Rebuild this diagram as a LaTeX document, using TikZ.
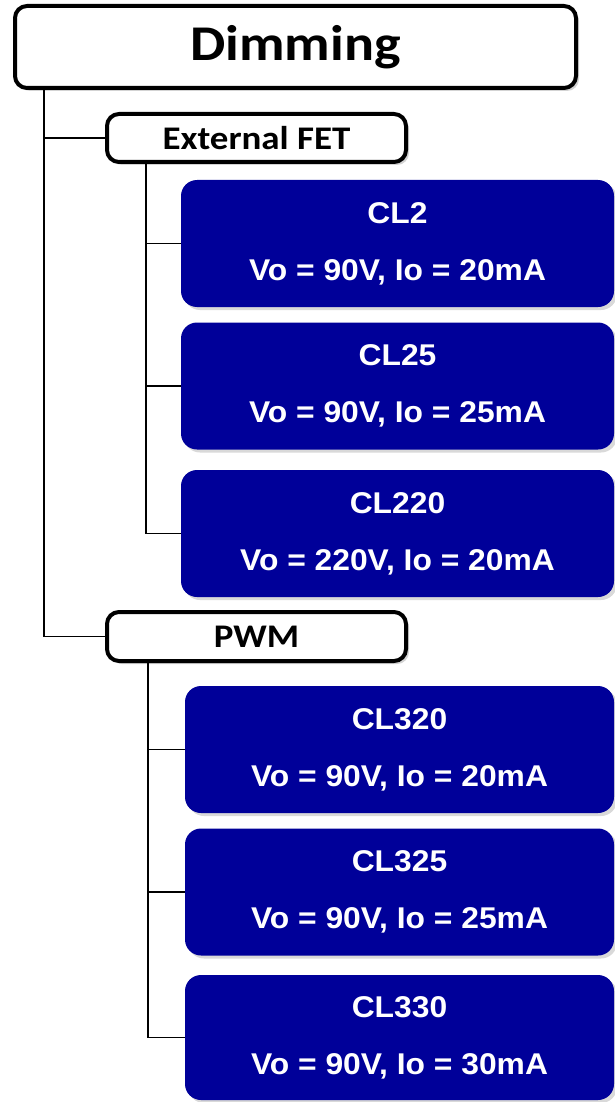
\documentclass[tikz,border=0pt]{standalone}
\usepackage{fontspec}
\usetikzlibrary{positioning,shadows}
\newfontfamily\titlefont[FakeStretch=1.12]{Carlito}
\newfontfamily\cardfont[FakeStretch=1.06]{Liberation Sans}
\definecolor{CardBlue}{RGB}{0, 0, 153}

\tikzset{
  headbox/.style={draw=black, line width=4pt, rounded corners=12pt, fill=white,
    drop shadow={opacity=0.35, shadow xshift=3pt, shadow yshift=-3pt},
    inner sep=0pt, font=\titlefont\bfseries},
  cardbox/.style={fill=CardBlue, text=white, rounded corners=16pt, align=center,
    drop shadow={opacity=0.3, shadow xshift=3pt, shadow yshift=-3pt},
    inner sep=0pt, font=\cardfont\bfseries\fontsize{30}{57}\selectfont},
  link/.style={draw=black, line width=1.8pt}
}

\begin{document}
\begin{tikzpicture}[x=1pt, y=-1pt]
  \useasboundingbox (0,0) rectangle (615,1102);

  % Top level
  \node[headbox, minimum width=561pt, minimum height=82pt, font=\titlefont\bfseries\fontsize{50}{60}\selectfont]
    (dim) at (295.5, 47) {Dimming};

  % Branches
  \node[headbox, minimum width=299pt, minimum height=48pt, font=\titlefont\bfseries\fontsize{33}{40}\selectfont]
    (ext) at (256.5, 138) {External FET};
  \node[headbox, minimum width=299pt, minimum height=49pt, font=\titlefont\bfseries\fontsize{33}{40}\selectfont]
    (pwm) at (256.5, 636.5) {PWM};

  % External FET parts
  \node[cardbox, minimum width=433pt, minimum height=127pt] (cl2) at (397.5, 243.5)
    {CL2\\Vo = 90V, Io = 20mA};
  \node[cardbox, minimum width=433pt, minimum height=127pt] (cl25) at (397.5, 386)
    {CL25\\Vo = 90V, Io = 25mA};
  \node[cardbox, minimum width=433pt, minimum height=127pt] (cl220) at (397.5, 533.5)
    {CL220\\Vo = 220V, Io = 20mA};

  % PWM parts
  \node[cardbox, minimum width=429pt, minimum height=127pt] (cl320) at (399.5, 749.5)
    {CL320\\Vo = 90V, Io = 20mA};
  \node[cardbox, minimum width=429pt, minimum height=127pt] (cl325) at (399.5, 892)
    {CL325\\Vo = 90V, Io = 25mA};
  \node[cardbox, minimum width=429pt, minimum height=125pt] (cl330) at (399.5, 1037.5)
    {CL330\\Vo = 90V, Io = 30mA};

  % Connectors
  \foreach \kid in {ext, pwm}
    \draw[link] ([xshift=31pt]dim.south west) |- (\kid.west);
  \foreach \kid in {cl2, cl25, cl220}
    \draw[link] ([xshift=41pt]ext.south west) |- (\kid.west);
  \foreach \kid in {cl320, cl325, cl330}
    \draw[link] ([xshift=43pt]pwm.south west) |- (\kid.west);
\end{tikzpicture}
\end{document}
